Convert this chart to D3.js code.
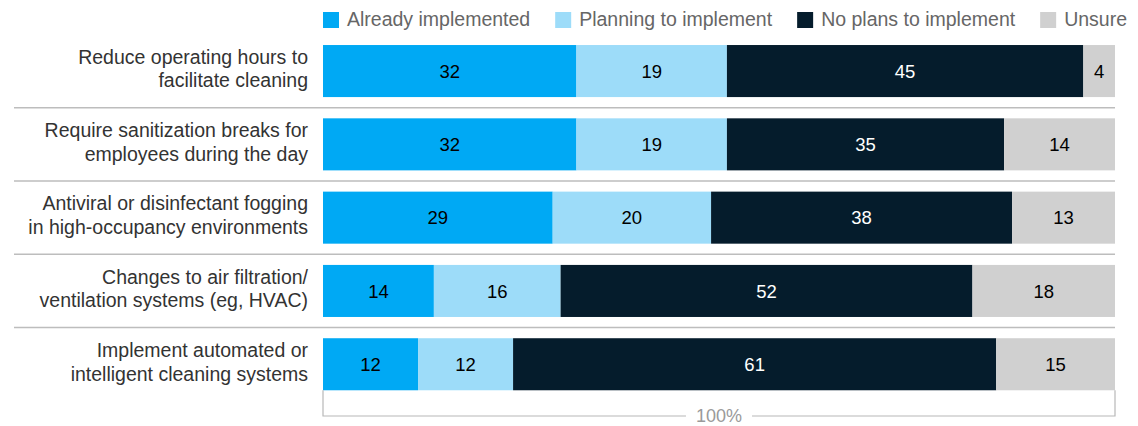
<!DOCTYPE html>
<html>
<head>
<meta charset="utf-8">
<script src="https://cdn.jsdelivr.net/npm/d3@7"></script>
<style>
  html, body { margin: 0; padding: 0; background: #fff; }
  svg { display: block; font-family: "Liberation Sans", Arial, sans-serif; }
</style>
</head>
<body>
<svg id="chart" width="1138" height="426"></svg>
<script>
// Survey measures (share of respondents, %)
const measures = [
  ["Reduce operating hours to", "facilitate cleaning"],
  ["Require sanitization breaks for", "employees during the day"],
  ["Antiviral or disinfectant fogging", "in high-occupancy environments"],
  ["Changes to air filtration/", "ventilation systems (eg, HVAC)"],
  ["Implement automated or", "intelligent cleaning systems"]
];
const seriesNames = ["Already implemented", "Planning to implement", "No plans to implement", "Unsure"];
const alreadyImplemented = [32, 32, 29, 14, 12];
const planningToImplement = [19, 19, 20, 16, 12];
const noPlansToImplement = [45, 35, 38, 52, 61];
const unsure = [4, 14, 13, 18, 15];
const totalLabel = "100%";

const colors = ["#00a9f4", "#9ddcf9", "#051c2c", "#d0d0d0"];
const labelColors = ["#000", "#000", "#fff", "#000"];

const rows = measures.map((m, i) => ({
  key: i,
  label: m,
  [seriesNames[0]]: alreadyImplemented[i],
  [seriesNames[1]]: planningToImplement[i],
  [seriesNames[2]]: noPlansToImplement[i],
  [seriesNames[3]]: unsure[i]
}));

const svg = d3.select("#chart");

const x = d3.scaleLinear().domain([0, 100]).range([323, 1115]);
const y = d3.scaleBand()
  .domain(rows.map(d => d.key))
  .range([34.4, 34.4 + 5 * 73.3])
  .paddingInner(0.29)
  .paddingOuter(0.145);

const stacked = d3.stack().keys(seriesNames)(rows);

// Row separators
const sepG = svg.append("g");
rows.slice(1).forEach(d => {
  const yy = y(d.key) - y.step() * y.paddingInner() / 2;
  sepG.append("line")
    .attr("x1", 14).attr("x2", x(100))
    .attr("y1", yy).attr("y2", yy)
    .attr("stroke", "#bdbdbd").attr("stroke-width", 1.5);
});

// Bars
const layers = svg.append("g").selectAll("g")
  .data(stacked).join("g")
  .attr("fill", (d, i) => colors[i]);

layers.selectAll("rect")
  .data(d => d.map(p => ({ p, key: p.data.key })))
  .join("rect")
  .attr("x", d => x(d.p[0]))
  .attr("width", d => x(d.p[1]) - x(d.p[0]))
  .attr("y", d => y(d.key))
  .attr("height", y.bandwidth());

// Value labels
stacked.forEach((layer, i) => {
  svg.append("g").selectAll("text")
    .data(layer).join("text")
    .attr("x", p => (x(p[0]) + x(p[1])) / 2)
    .attr("y", p => y(p.data.key) + y.bandwidth() / 2)
    .attr("dy", "0.36em")
    .attr("text-anchor", "middle")
    .attr("font-size", 18.5)
    .attr("fill", labelColors[i])
    .text(p => p[1] - p[0]);
});

// Category labels
const catG = svg.append("g");
rows.forEach(d => {
  const cy = y(d.key) + y.bandwidth() / 2;
  const t = catG.append("text")
    .attr("text-anchor", "end")
    .attr("font-size", 19.5)
    .attr("fill", "#333");
  d.label.forEach((line, j) => {
    t.append("tspan")
      .attr("x", 308)
      .attr("y", cy + (j - 0.5) * 23.6 + 4.5)
      .text(line);
  });
});

// Legend
const legend = svg.append("g");
let lx = x(0);
seriesNames.forEach((name, i) => {
  legend.append("rect")
    .attr("x", lx).attr("y", 12)
    .attr("width", 16).attr("height", 16)
    .attr("fill", colors[i]);
  const t = legend.append("text")
    .attr("x", lx + 24).attr("y", 26)
    .attr("font-size", 19.5)
    .attr("fill", "#666")
    .text(name);
  lx += 24 + t.node().getComputedTextLength() + 25;
});

// Total bracket
const bTop = y(rows[rows.length - 1].key) + y.bandwidth();
const bY = 416;
const mid = (x(0) + x(100)) / 2;
const tot = svg.append("text")
  .attr("x", mid).attr("y", bY)
  .attr("dy", "0.36em")
  .attr("text-anchor", "middle")
  .attr("font-size", 18)
  .attr("fill", "#9a9a9a")
  .text(totalLabel);
const half = tot.node().getComputedTextLength() / 2 + 10;
svg.append("path")
  .attr("d", `M${x(0)},${bTop}V${bY}H${mid - half}M${mid + half},${bY}H${x(100)}V${bTop}`)
  .attr("fill", "none")
  .attr("stroke", "#b8b8b8")
  .attr("stroke-width", 1.2);
</script>
</body>
</html>
